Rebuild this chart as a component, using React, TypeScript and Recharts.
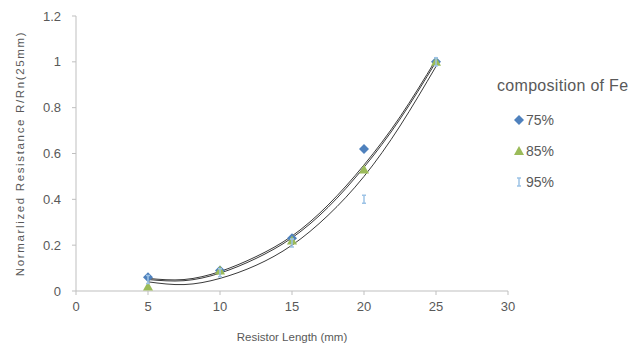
import {
  ComposedChart,
  Scatter,
  Line,
  XAxis,
  YAxis,
} from "recharts";

const lengths = [5, 10, 15, 20, 25];
const fe75 = [0.06, 0.09, 0.23, 0.62, 1.0];
const fe85 = [0.02, 0.09, 0.22, 0.53, 1.0];
const fe95 = [0.05, 0.08, 0.21, 0.4, 1.0];

// trendline curves
const trendX = [5, 7.5, 10, 12.5, 15, 17.5, 20, 22.5, 25];
const trend75 = [0.055, 0.05, 0.085, 0.15, 0.24, 0.375, 0.55, 0.76, 1.01];
const trend85 = [0.05, 0.045, 0.078, 0.142, 0.232, 0.365, 0.54, 0.75, 1.0];
const trend95 = [0.04, 0.028, 0.055, 0.112, 0.2, 0.33, 0.5, 0.72, 0.98];

const xTicks = [0, 5, 10, 15, 20, 25, 30];
const yTicks = [0, 0.2, 0.4, 0.6, 0.8, 1, 1.2];

const toPoints = (xs: number[], ys: number[]) => xs.map((x, i) => ({ x, y: ys[i] }));

const series = [
  { name: "75%", color: "#4f81bd", data: toPoints(lengths, fe75), shape: "diamond" },
  { name: "85%", color: "#9bbb59", data: toPoints(lengths, fe85), shape: "triangle" },
  { name: "95%", color: "#9dc3e6", data: toPoints(lengths, fe95), shape: "x" },
];

const trends = [trend75, trend85, trend95].map((t) => toPoints(trendX, t));

const textColor = "#595959";
const font = "'Liberation Sans', Arial, sans-serif";

const Diamond = ({ cx, cy, fill }: any) => (
  <path d={`M${cx},${cy - 5}L${cx + 5},${cy}L${cx},${cy + 5}L${cx - 5},${cy}Z`} fill={fill} />
);
const Triangle = ({ cx, cy, fill }: any) => (
  <path d={`M${cx},${cy - 5}L${cx + 5},${cy + 4}L${cx - 5},${cy + 4}Z`} fill={fill} />
);
const XMark = ({ cx, cy, fill }: any) => (
  <path
    d={`M${cx - 2},${cy - 4}L${cx + 2},${cy - 4}M${cx},${cy - 4}L${cx},${cy + 4}M${cx - 2},${cy + 4}L${cx + 2},${cy + 4}`}
    stroke={fill}
    strokeWidth={1.5}
    fill="none"
  />
);

const shapes: Record<string, any> = { diamond: Diamond, triangle: Triangle, x: XMark };

const LegendBox = () => (
  <div style={{ position: "absolute", left: 497, top: 77, fontFamily: font, color: textColor }}>
    <div style={{ fontSize: 16, letterSpacing: 0.3, marginBottom: 9, whiteSpace: "nowrap" }}>composition of Fe</div>
    {series.map((s) => {
      const Shape = shapes[s.shape];
      return (
        <div key={s.name} style={{ display: "flex", alignItems: "center", height: 31, paddingLeft: 16, fontSize: 14 }}>
          <svg width={12} height={12} style={{ marginRight: 1 }}>
            <Shape cx={6} cy={6} fill={s.color} />
          </svg>
          <span>{s.name}</span>
        </div>
      );
    })}
  </div>
);

export default function App() {
  return (
    <div style={{ position: "absolute", left: 0, top: 0, width: 638, height: 362, background: "#fff" }}>
      <ComposedChart
        width={638}
        height={362}
        margin={{ top: 16, right: 130, bottom: 21, left: 0 }}
      >
        <XAxis
          dataKey="x"
          type="number"
          domain={[0, 30]}
          ticks={xTicks}
          height={50}
          stroke="#bfbfbf"
          tickSize={4}
          tick={{ fill: textColor, fontSize: 13, fontFamily: font, dy: 5 }}
          label={{
            value: "Resistor Length (mm)",
            position: "insideBottom",
            offset: 0,
            fill: textColor,
            fontSize: 11.5,
            fontFamily: font,
          }}
        />
        <YAxis
          dataKey="y"
          type="number"
          domain={[0, 1.2]}
          ticks={yTicks}
          width={76}
          stroke="#bfbfbf"
          tickSize={4}
          tick={{ fill: textColor, fontSize: 13, fontFamily: font, dx: -9 }}
          label={{
            value: "Normarlized Resistance R/Rn(25mm)",
            angle: -90,
            position: "insideLeft",
            offset: 20,
            textAnchor: "middle",
            fill: textColor,
            fontSize: 11.5,
            fontFamily: font,
            letterSpacing: 1.65,
          }}
        />
        {trends.map((t, i) => (
          <Line
            key={"t" + i}
            data={t}
            dataKey="y"
            type="natural"
            stroke="#3a3a3a"
            strokeWidth={1}
            dot={false}
            activeDot={false}
            legendType="none"
            isAnimationActive={false}
          />
        ))}
        {series.map((s) => (
          <Scatter
            key={s.name}
            name={s.name}
            data={s.data}
            dataKey="y"
            fill={s.color}
            shape={shapes[s.shape]}
            isAnimationActive={false}
          />
        ))}
      </ComposedChart>
      <LegendBox />
    </div>
  );
}
